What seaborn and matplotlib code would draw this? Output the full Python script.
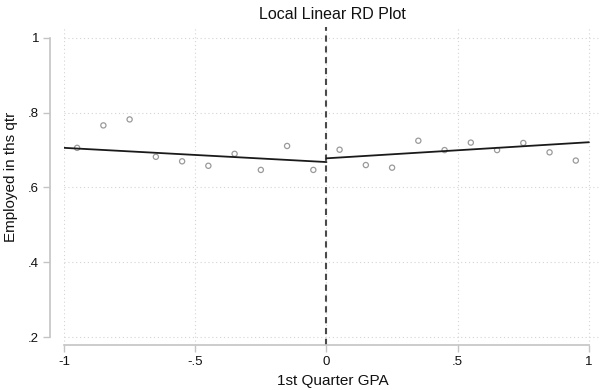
import matplotlib
matplotlib.use("Agg")
import matplotlib.pyplot as plt
import pandas as pd
import seaborn as sns

sns.set_style("white")
plt.rcParams['font.family'] = ['Liberation Sans', 'DejaVu Sans']

# binned means
bin_x = [-0.95, -0.85, -0.75, -0.65, -0.55, -0.45, -0.35, -0.25, -0.15, -0.05,
         0.05, 0.15, 0.25, 0.35, 0.45, 0.55, 0.65, 0.75, 0.85, 0.95]
bin_y = [0.706, 0.766, 0.782, 0.682, 0.670, 0.658, 0.690, 0.647, 0.711, 0.647,
         0.701, 0.660, 0.653, 0.725, 0.700, 0.720, 0.700, 0.719, 0.694, 0.672]

# local linear fits on each side of the cutoff
left_x = [-1.0, 0.0]
left_y = [0.706, 0.668]
right_x = [0.0, 1.0]
right_y = [0.678, 0.721]

xticks = [-1, -0.5, 0, 0.5, 1]
xtick_labels = ["-1", "-.5", "0", ".5", "1"]
yticks = [0.2, 0.4, 0.6, 0.8, 1.0]
ytick_labels = [".2", ".4", ".6", ".8", "1"]

bins = pd.DataFrame({"x": bin_x, "y": bin_y})
left = pd.DataFrame({"x": left_x, "y": left_y})
right = pd.DataFrame({"x": right_x, "y": right_y})

fig = plt.figure(figsize=(6.02, 3.90), dpi=100)
ax = fig.add_axes([64 / 602, 45 / 390, 537 / 602, 318 / 390])

for v in xticks:
    ax.axvline(v, color="#d4d4d4", lw=0.8, ls=(0, (1, 2.5)), zorder=0)
for v in yticks:
    ax.axhline(v, color="#d4d4d4", lw=0.8, ls=(0, (1, 2.5)), zorder=0)

sns.scatterplot(data=bins, x="x", y="y", ax=ax, marker="o", s=14,
                facecolor="none", edgecolor="#9a9a9a", linewidth=0.9, zorder=3)
sns.lineplot(data=left, x="x", y="y", ax=ax, color="#1a1a1a", lw=1.3, zorder=4)
sns.lineplot(data=right, x="x", y="y", ax=ax, color="#1a1a1a", lw=1.3, zorder=4)
ax.axvline(0, color="#4a4a4a", lw=1.5, ls=(0, (3, 2.2)), zorder=2)

ax.set_xlim(-1, 1.046)
ax.set_ylim(0.179, 1.029)
ax.set_xticks(xticks, xtick_labels)
ax.set_yticks(yticks, ytick_labels)

for s in ["top", "right"]:
    ax.spines[s].set_visible(False)
ax.spines["left"].set_position(("outward", 10))
ax.spines["left"].set_bounds(0.2, 1.0)
ax.spines["bottom"].set_bounds(-1, 1)
for s in ["left", "bottom"]:
    ax.spines[s].set_color("#c4c4c4")
    ax.spines[s].set_linewidth(1.2)

ax.tick_params(axis="both", which="major", direction="out", length=5, width=1,
               color="#c4c4c4", labelsize=9.5, labelcolor="#111111", pad=3,
               left=True, bottom=True)

ax.set_xlabel("1st Quarter GPA", fontsize=11, color="#111111", labelpad=4)
ax.set_ylabel("Employed in ths qtr", fontsize=11, color="#111111", labelpad=16)
ax.yaxis.set_label_coords(-0.085, 0.53)
ax.set_title("Local Linear RD Plot", fontsize=11.5, color="#111111", pad=6)

fig.savefig("out.png", dpi=100)
